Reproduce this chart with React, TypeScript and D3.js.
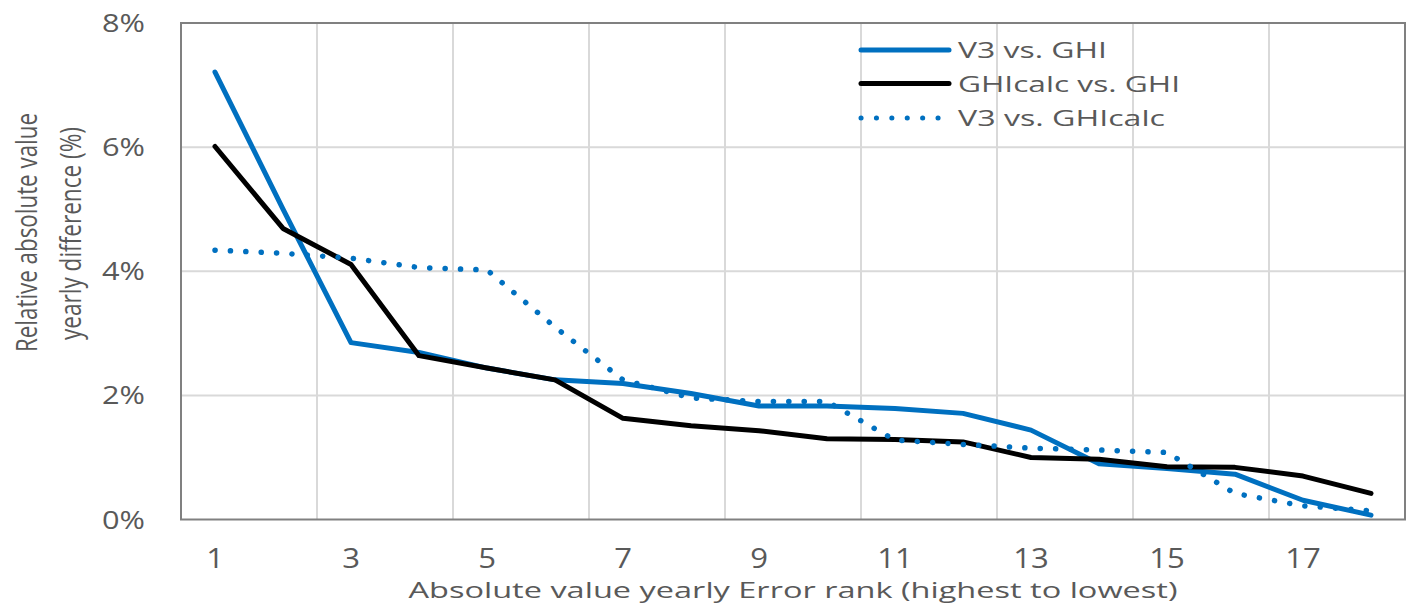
import React from "react";
import * as d3 from "d3";

const ranks = d3.range(1, 19);
const xTickLabels = [1, 3, 5, 7, 9, 11, 13, 15, 17];
const yTicks = [0, 0.02, 0.04, 0.06, 0.08];

const v3VsGhi = [7.21, 5.0, 2.85, 2.69, 2.44, 2.25, 2.19, 2.03, 1.83, 1.83, 1.79, 1.71, 1.44, 0.9, 0.82, 0.73, 0.31, 0.07];
const ghicalcVsGhi = [6.01, 4.69, 4.11, 2.64, 2.44, 2.25, 1.63, 1.51, 1.43, 1.3, 1.29, 1.25, 1.0, 0.97, 0.85, 0.84, 0.7, 0.42];
const v3VsGhicalc = [4.34, 4.29, 4.21, 4.06, 4.02, 3.1, 2.25, 1.96, 1.9, 1.9, 1.28, 1.21, 1.15, 1.12, 1.08, 0.42, 0.22, 0.14];

const seriesNames = ["V3 vs. GHI", "GHIcalc vs. GHI", "V3 vs. GHIcalc"];
const legendWidths = [149, 222, 207];

const W = 1413;
const H = 608;
const left = 181;
const right = 1405;
const top = 23;
const bottom = 519.5;

const BLUE = "#0070C0";
const TEXT = "#595959";
const FONT = "'Open Sans', sans-serif";

export default function App() {
  const x = d3.scaleBand<number>().domain(ranks).range([left, right]).padding(0);
  const cx = (r: number) => (x(r) as number) + x.bandwidth() / 2;
  const y = d3.scaleLinear().domain([0, 0.08]).range([bottom, top]);

  const line = d3
    .line<number>()
    .x((_, i) => cx(ranks[i]))
    .y((d) => y(d / 100));

  const series = [
    { name: seriesNames[0], data: v3VsGhi, color: BLUE, dash: undefined as string | undefined },
    { name: seriesNames[1], data: ghicalcVsGhi, color: "#000", dash: undefined },
    { name: seriesNames[2], data: v3VsGhicalc, color: BLUE, dash: "0.1 15.3" },
  ];

  const gridX = d3.range(3, 19, 2).map((r) => x(r) as number);

  return (
    <svg width={W} height={H} style={{ position: "absolute", left: 0, top: 0, background: "#fff" }}>
      <rect x={0} y={0} width={W} height={H} fill="#fff" />
      {yTicks.slice(1, -1).map((t) => (
        <line key={"gy" + t} x1={left} x2={right} y1={y(t)} y2={y(t)} stroke="#d9d9d9" strokeWidth={2} />
      ))}
      {gridX.map((gx, i) => (
        <line key={"gx" + i} x1={gx} x2={gx} y1={top} y2={bottom} stroke="#d9d9d9" strokeWidth={2} />
      ))}
      <rect x={left} y={top} width={right - left} height={bottom - top} fill="none" stroke="#808080" strokeWidth={2} />

      {series.map((s) => (
        <path
          key={s.name}
          d={line(s.data) as string}
          fill="none"
          stroke={s.color}
          strokeWidth={s.dash ? 5.5 : 5}
          strokeLinecap="round"
          strokeLinejoin="round"
          strokeDasharray={s.dash}
        />
      ))}

      {yTicks.map((t) => (
        <text
          key={"yt" + t}
          x={145}
          y={y(t)}
          dy="0.36em"
          textAnchor="end"
          fontFamily={FONT}
          fontSize={25}
          fill={TEXT}
          textLength={43}
          lengthAdjust="spacingAndGlyphs"
        >
          {d3.format(".0%")(t)}
        </text>
      ))}

      {xTickLabels.map((r) => (
        <g key={"xt" + r} transform={`translate(${cx(r)},568) scale(1.15,1)`}>
          <text textAnchor="middle" fontFamily={FONT} fontSize={27} fill={TEXT}>
            {r}
          </text>
        </g>
      ))}

      <text
        x={793}
        y={598}
        textAnchor="middle"
        fontFamily={FONT}
        fontSize={22.5}
        fill={TEXT}
        textLength={769}
        lengthAdjust="spacingAndGlyphs"
      >
        Absolute value yearly Error rank (highest to lowest)
      </text>
      <g transform="translate(37,232.5) rotate(-90)">
        <text
          x={0}
          y={0}
          textAnchor="middle"
          fontFamily={FONT}
          fontSize={30}
          fill={TEXT}
          textLength={239}
          lengthAdjust="spacingAndGlyphs"
        >
          Relative absolute value
        </text>
      </g>
      <g transform="translate(81,233.5) rotate(-90)">
        <text
          x={0}
          y={0}
          textAnchor="middle"
          fontFamily={FONT}
          fontSize={30}
          fill={TEXT}
          textLength={213}
          lengthAdjust="spacingAndGlyphs"
        >
          yearly difference (%)
        </text>
      </g>

      {series.map((s, i) => {
        const ly = [50, 83.5, 118][i];
        return (
          <g key={"lg" + s.name}>
            <line
              x1={861}
              x2={949}
              y1={ly}
              y2={ly}
              stroke={s.color}
              strokeWidth={5}
              strokeLinecap="round"
              strokeDasharray={s.dash}
            />
            <text
              x={958}
              y={ly + 8}
              fontFamily={FONT}
              fontSize={22}
              fill={TEXT}
              textLength={legendWidths[i]}
              lengthAdjust="spacingAndGlyphs"
            >
              {s.name}
            </text>
          </g>
        );
      })}
    </svg>
  );
}
